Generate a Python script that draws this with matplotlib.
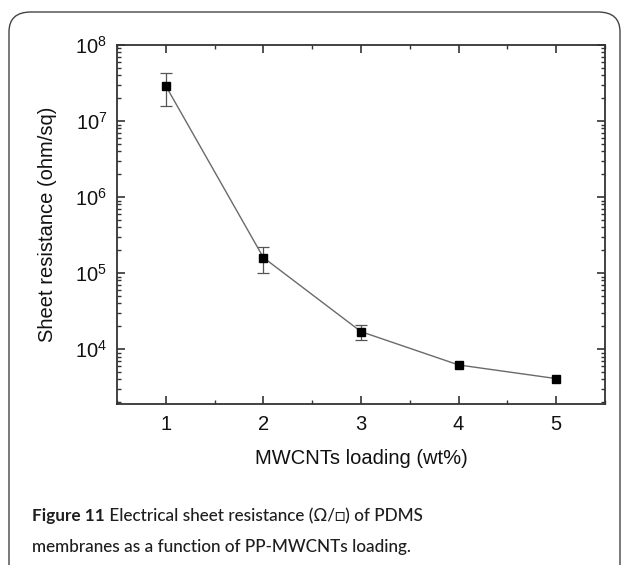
import matplotlib
matplotlib.use("Agg")
import matplotlib.pyplot as plt
from matplotlib.patches import FancyBboxPatch
from matplotlib.ticker import LogLocator, MultipleLocator, NullFormatter

# Data
loading = [1, 2, 3, 4, 5]
resistance = [2.9e7, 1.6e5, 1.7e4, 6.2e3, 4.1e3]
err_x = [1, 2, 3]
err_y = [2.9e7, 1.6e5, 1.7e4]
err_low = [1.3e7, 0.6e5, 0.4e4]
err_high = [1.4e7, 0.6e5, 0.4e4]

xlabel = "MWCNTs loading (wt%)"
ylabel = "Sheet resistance (ohm/sq)"
cap_bold = "Figure 11"
cap_line1 = " Electrical sheet resistance (Ω/□) of PDMS"
cap_line2 = "membranes as a function of PP-MWCNTs loading."

plt.rcParams['font.family'] = ['Liberation Sans', 'DejaVu Sans']
plt.rcParams['mathtext.default'] = 'regular'

W, H = 629, 565
fig = plt.figure(figsize=(W / 100, H / 100), dpi=100)
ax = fig.add_axes([117 / W, 1 - 404 / H, (605 - 117) / W, (404 - 45) / H])

axc = '#333333'
ax.errorbar(err_x, err_y, yerr=[err_low, err_high], fmt='none',
            ecolor='#555555', elinewidth=0.9, capsize=4, capthick=0.9, zorder=2)
ax.plot(loading, resistance, '-', color='#6a6a6a', lw=1.0, zorder=3)
ax.plot(loading, resistance, 's', color='black', ms=6, zorder=4)

ax.set_yscale('log')
ax.set_xlim(0.5, 5.5)
ax.set_ylim(1.9e3, 1e8)
ax.set_xticks(loading)
ax.xaxis.set_minor_locator(MultipleLocator(0.5))
ax.yaxis.set_major_locator(LogLocator(base=10, numticks=10))
ax.yaxis.set_minor_locator(LogLocator(base=10, subs=range(2, 10), numticks=20))
ax.yaxis.set_minor_formatter(NullFormatter())

for s in ax.spines.values():
    s.set_color(axc)
    s.set_linewidth(1.3)
ax.tick_params(which='both', direction='in', top=True, right=True, colors=axc,
               labelcolor='#111111', labelsize=14.5)
ax.tick_params(which='major', length=6, width=1.2)
ax.tick_params(which='minor', length=3, width=1.0)
ax.tick_params(axis='x', which='major', pad=8)
ax.tick_params(axis='y', which='major', pad=7)

ax.set_xlabel(xlabel, fontsize=14.5, color='#111111', labelpad=11)
ax.set_ylabel(ylabel, fontsize=14.5, color='#111111', labelpad=13)

# Rounded frame
box = FancyBboxPatch((9 / W, 1 - 590 / H), (620 - 9) / W, (590 - 12) / H,
                     boxstyle="round,pad=0,rounding_size=0.035",
                     transform=fig.transFigure, fill=False,
                     edgecolor='#444444', lw=1.0, clip_on=False)
fig.add_artist(box)

# Caption
capfont = ['Lato', 'DejaVu Sans']
capcol = '#1e1e1e'
cs = 12.3
t1 = fig.text(32 / W, 1 - 521 / H, cap_bold, fontsize=cs, fontweight='bold',
              family=capfont, color=capcol, va='baseline', ha='left')
fig.canvas.draw()
r = fig.canvas.get_renderer()
bb = t1.get_window_extent(r)
fig.text(bb.x1 / W, 1 - 521 / H, cap_line1, fontsize=cs, family=capfont,
         color=capcol, va='baseline', ha='left', fontweight='medium')
fig.text(32 / W, 1 - 552 / H, cap_line2, fontsize=cs, family=capfont,
         color=capcol, va='baseline', ha='left', fontweight='medium')

fig.savefig('out.png', dpi=100)
